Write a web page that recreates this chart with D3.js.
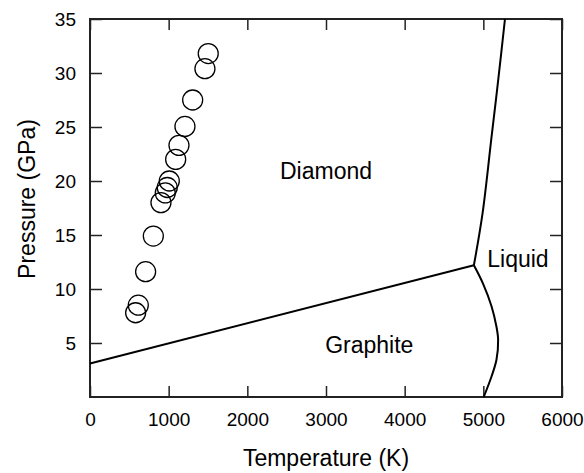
<!DOCTYPE html>
<html>
<head>
<meta charset="utf-8">
<script src="https://cdn.jsdelivr.net/npm/d3@7"></script>
<style>
    body { margin: 0; background: #fff; }
    svg text { font-family: "Liberation Sans", Arial, Helvetica, sans-serif; fill: #000; }
</style>
</head>
<body>
<div id="chart-area"></div>
<script>

// experimental points (temperature K, pressure GPa)
const expTemp = [1503, 1461, 1305, 1207, 1131, 1089, 1008, 982, 957, 902, 805, 707, 614, 580];
const expPres = [31.8, 30.4, 27.5, 25.05, 23.3, 22.0, 20.0, 19.4, 18.9, 18.0, 14.9, 11.6, 8.5, 7.8];

// phase boundaries
const graphiteDiamondTemp = [0, 4880];
const graphiteDiamondPres = [3.1, 12.2];

const diamondLiquidTemp = [4880, 4990, 5100, 5190, 5275];
const diamondLiquidPres = [12.2, 17, 23.8, 29.4, 35];

const graphiteLiquidTemp = [4880, 4996, 5104, 5167, 5188, 5167, 5104, 5005];
const graphiteLiquidPres = [12.2, 10.5, 8.4, 6.5, 5.3, 3.45, 1.9, 0];

// ticks and labels
const xTicks = [0, 1000, 2000, 3000, 4000, 5000, 6000];
const yTicks = [5, 10, 15, 20, 25, 30, 35];
const regionLabels = ["Diamond", "Graphite", "Liquid"];
const regionTemp = [3000, 3550, 5050];
const regionPres = [20.2, 4.1, 12.05];

let margin = {top: 19, right: 22, bottom: 76, left: 90};
let width = 584 - margin.left - margin.right,
    height = 473 - margin.top - margin.bottom;

let svg = d3.select("#chart-area").append("svg")
    .attr("width", 584)
    .attr("height", 473)
    .append("g")
    .attr("transform", "translate(" + margin.left + "," + margin.top + ")");

let x = d3.scaleLinear().domain([0, 6000]).range([0, width]);
let y = d3.scaleLinear().domain([0, 35]).range([height, 0]);

// axes, ticks pointing inward
let bottomAxis = svg.append("g")
    .attr("transform", "translate(0," + height + ")")
    .call(d3.axisBottom(x).tickValues(xTicks).tickFormat(d3.format("d"))
        .tickSize(-11).tickSizeOuter(0).tickPadding(16));
let leftAxis = svg.append("g")
    .call(d3.axisLeft(y).tickValues(yTicks).tickSize(-12).tickSizeOuter(0).tickPadding(14));
let topAxis = svg.append("g")
    .call(d3.axisTop(x).tickValues(xTicks).tickSize(-11).tickSizeOuter(0).tickFormat(""));
let rightAxis = svg.append("g")
    .attr("transform", "translate(" + width + ",0)")
    .call(d3.axisRight(y).tickValues(yTicks).tickSize(-12).tickSizeOuter(0).tickFormat(""));

[bottomAxis, leftAxis, topAxis, rightAxis].forEach(a => {
    a.select(".domain").remove();
    a.selectAll("line").attr("stroke", "#222").attr("stroke-width", 1.5);
    a.selectAll("text").attr("font-size", "19px").attr("fill", "#000")
        .attr("font-family", "'Liberation Sans', Arial, sans-serif");
});

svg.append("rect")
    .attr("width", width)
    .attr("height", height)
    .attr("fill", "none")
    .attr("stroke", "#222")
    .attr("stroke-width", 2);

// axis titles
svg.append("text")
    .attr("x", width / 2)
    .attr("y", height + 69)
    .attr("text-anchor", "middle")
    .attr("font-size", "23px")
    .text("Temperature (K)");

svg.append("text")
    .attr("transform", "rotate(-90)")
    .attr("x", -180)
    .attr("y", -55)
    .attr("text-anchor", "middle")
    .attr("font-size", "23px")
    .text("Pressure (GPa)");

// phase boundaries
let line = d3.line()
    .x(d => x(d[0]))
    .y(d => y(d[1]));

let boundaries = [
    {t: graphiteDiamondTemp, p: graphiteDiamondPres, curve: d3.curveLinear},
    {t: diamondLiquidTemp, p: diamondLiquidPres, curve: d3.curveCatmullRom},
    {t: graphiteLiquidTemp, p: graphiteLiquidPres, curve: d3.curveCatmullRom}
];

svg.selectAll(".boundary")
    .data(boundaries)
    .enter().append("path")
    .attr("class", "boundary")
    .attr("d", b => line.curve(b.curve)(b.t.map((t, i) => [t, b.p[i]])))
    .attr("fill", "none")
    .attr("stroke", "#000")
    .attr("stroke-width", 2);

// experimental points
svg.selectAll(".exp")
    .data(expTemp.map((t, i) => [t, expPres[i]]))
    .enter().append("circle")
    .attr("class", "exp")
    .attr("cx", d => x(d[0]))
    .attr("cy", d => y(d[1]))
    .attr("r", 10)
    .attr("fill", "none")
    .attr("stroke", "#000")
    .attr("stroke-width", 1.3);

// region labels
svg.selectAll(".region")
    .data(regionLabels)
    .enter().append("text")
    .attr("class", "region")
    .attr("x", (d, i) => x(regionTemp[i]))
    .attr("y", (d, i) => y(regionPres[i]))
    .attr("text-anchor", (d, i) => i == 2 ? "start" : "middle")
    .attr("font-size", "23px")
    .text(d => d);

</script>
</body>
</html>
